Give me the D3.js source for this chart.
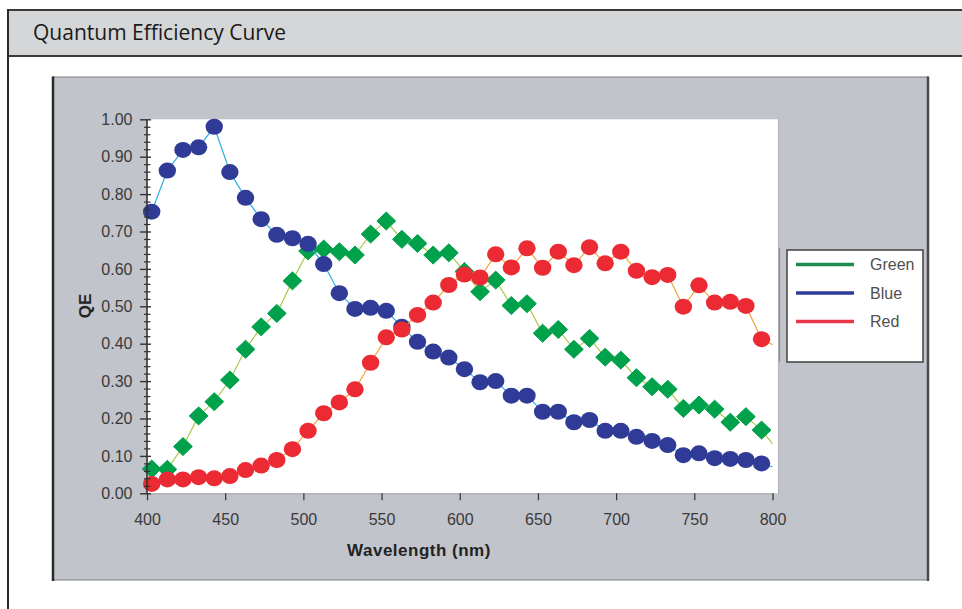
<!DOCTYPE html>
<html>
<head>
<meta charset="utf-8">
<script src="https://cdn.jsdelivr.net/npm/d3@7"></script>
<style>
  html, body { margin: 0; padding: 0; background: #ffffff; }
  svg { display: block; }
</style>
</head>
<body>
<svg id="chart" width="962" height="609"></svg>
<script>
// ---------------- data ----------------
const title = "Quantum Efficiency Curve";
const xTitle = "Wavelength (nm)";
const yTitle = "QE";
const seriesNames = ["Green", "Blue", "Red"];
const wavelengths = [403, 413, 423, 433, 443, 453, 463, 473, 483, 493,
                     503, 513, 523, 533, 543, 553, 563, 573, 583, 593,
                     603, 613, 623, 633, 643, 653, 663, 673, 683, 693,
                     703, 713, 723, 733, 743, 753, 763, 773, 783, 793];
const greenQE = [0.065, 0.064, 0.125, 0.207, 0.245, 0.303, 0.385, 0.445, 0.481, 0.568,
                 0.648, 0.653, 0.646, 0.637, 0.693, 0.728, 0.679, 0.668, 0.637, 0.643,
                 0.593, 0.539, 0.570, 0.502, 0.507, 0.428, 0.438, 0.385, 0.414, 0.364,
                 0.356, 0.309, 0.285, 0.278, 0.227, 0.236, 0.225, 0.190, 0.205, 0.169];
const blueQE  = [0.753, 0.863, 0.918, 0.925, 0.980, 0.859, 0.790, 0.733, 0.691, 0.682,
                 0.667, 0.613, 0.535, 0.493, 0.496, 0.488, 0.445, 0.405, 0.379, 0.363,
                 0.332, 0.297, 0.300, 0.261, 0.261, 0.218, 0.218, 0.190, 0.196, 0.167,
                 0.167, 0.151, 0.140, 0.129, 0.102, 0.107, 0.094, 0.092, 0.089, 0.080];
const redQE   = [0.025, 0.037, 0.037, 0.043, 0.040, 0.046, 0.062, 0.074, 0.089, 0.118,
                 0.167, 0.214, 0.243, 0.278, 0.349, 0.417, 0.438, 0.477, 0.510, 0.557,
                 0.585, 0.577, 0.639, 0.604, 0.655, 0.603, 0.646, 0.610, 0.658, 0.615,
                 0.646, 0.595, 0.578, 0.584, 0.499, 0.556, 0.510, 0.512, 0.501, 0.412];
// line end points at 800 nm (no marker drawn)
const endWavelength = 800;
const endQE = [0.132, 0.071, 0.397];   // Green, Blue, Red
const xTicks = [400, 450, 500, 550, 600, 650, 700, 750, 800];
const yTicks = [0.00, 0.10, 0.20, 0.30, 0.40, 0.50, 0.60, 0.70, 0.80, 0.90, 1.00];
const yMinorTicks = [0.02,0.04,0.06,0.08,0.12,0.14,0.16,0.18,0.22,0.24,0.26,0.28,0.32,0.34,0.36,0.38,
                     0.42,0.44,0.46,0.48,0.52,0.54,0.56,0.58,0.62,0.64,0.66,0.68,0.72,0.74,0.76,0.78,
                     0.82,0.84,0.86,0.88,0.92,0.94,0.96,0.98];

// ---------------- layout / style ----------------
const svg = d3.select("#chart");
const axisFont = "'Liberation Sans', Arial, sans-serif";

const styles = {
  Green: { marker: "#00a14b", line: "#a9c94a", legend: "#1b8c4c", shape: "diamond" },
  Blue:  { marker: "#2f3b96", line: "#2aaee6", legend: "#2f3b96", shape: "circle" },
  Red:   { marker: "#ec2a33", line: "#f4a43a", legend: "#e8374b", shape: "circle" }
};

// outer frame
svg.append("rect").attr("x", 9).attr("y", 10).attr("width", 960).attr("height", 46)
  .attr("fill", "#d5d6d8");
svg.append("line").attr("x1", 8).attr("x2", 962).attr("y1", 10).attr("y2", 10)
  .attr("stroke", "#3a3a3a").attr("stroke-width", 2);
svg.append("line").attr("x1", 8).attr("x2", 962).attr("y1", 56).attr("y2", 56)
  .attr("stroke", "#3a3a3a").attr("stroke-width", 2);
svg.append("line").attr("x1", 8).attr("x2", 8).attr("y1", 9).attr("y2", 609)
  .attr("stroke", "#2a2a2a").attr("stroke-width", 2);
svg.append("text").attr("x", 33).attr("y", 39.5)
  .attr("font-family", "'Open Sans', 'Noto Sans', sans-serif").attr("font-size", 21)
  .attr("fill", "#1a1a1a").text(title);

// chart panel
svg.append("rect").attr("x", 53).attr("y", 77).attr("width", 875).attr("height", 503)
  .attr("fill", "#c1c4ca").attr("stroke", "#7a7c80").attr("stroke-width", 1);
svg.append("line").attr("x1", 53).attr("x2", 53).attr("y1", 76.5).attr("y2", 581)
  .attr("stroke", "#2a2a2a").attr("stroke-width", 2.5);
svg.append("line").attr("x1", 928).attr("x2", 928).attr("y1", 76.5).attr("y2", 581)
  .attr("stroke", "#4a4a4a").attr("stroke-width", 2.5);

// scales
const x = d3.scaleLinear().domain([400, 800]).range([147, 772.5]);
const y = d3.scaleLinear().domain([0, 1]).range([493.3, 119.3]);

// plot area
svg.append("rect").attr("x", 147).attr("y", 119.3).attr("width", 631).attr("height", 374)
  .attr("fill", "#ffffff");
svg.append("line").attr("x1", 778.5).attr("x2", 778.5).attr("y1", 119).attr("y2", 494)
  .attr("stroke", "#b4b6ba").attr("stroke-width", 1.2);
svg.append("line").attr("x1", 779.5).attr("x2", 779.5).attr("y1", 248).attr("y2", 362)
  .attr("stroke", "#8a8c90").attr("stroke-width", 1.2);

// series
const series = [
  { name: "Green", values: greenQE, end: endQE[0] },
  { name: "Blue",  values: blueQE,  end: endQE[1] },
  { name: "Red",   values: redQE,   end: endQE[2] }
];
const lineGen = d3.line().x(d => x(d[0])).y(d => y(d[1]));
const diamond = (cx, cy) => `M${cx},${cy-9}L${cx+9.4},${cy}L${cx},${cy+9}L${cx-9.4},${cy}Z`;

const plot = svg.append("g");
series.forEach(s => {
  const st = styles[s.name];
  const pts = wavelengths.map((w, i) => [w, s.values[i]]);
  plot.append("path").datum(pts.concat([[endWavelength, s.end]]))
    .attr("d", lineGen).attr("fill", "none")
    .attr("stroke", st.line).attr("stroke-width", 1.2);
  const g = plot.append("g");
  if (st.shape === "circle") {
    g.selectAll("ellipse").data(pts).join("ellipse")
      .attr("cx", d => x(d[0])).attr("cy", d => y(d[1]))
      .attr("rx", 8.7).attr("ry", 8).attr("fill", st.marker);
  } else {
    g.selectAll("path").data(pts).join("path")
      .attr("d", d => diamond(x(d[0]), y(d[1]))).attr("fill", st.marker)
      .attr("stroke", st.marker).attr("stroke-width", 1).attr("stroke-linejoin", "round");
  }
});

// x axis
const xAxis = svg.append("g").attr("transform", "translate(0,493.3)")
  .call(d3.axisBottom(x).tickValues(xTicks).tickFormat(d3.format("d")).tickSize(7).tickPadding(12));
xAxis.select(".domain").attr("stroke", "#a8aaae").attr("stroke-width", 1.2);
xAxis.selectAll(".tick line").attr("stroke", "#333").attr("stroke-width", 1.2);
xAxis.selectAll(".tick text").attr("font-family", axisFont).attr("font-size", 16)
  .attr("fill", "#3a3a3a").attr("dy", "0.71em").attr("y", 20);

// y axis minor ticks
const yMinor = svg.append("g").attr("transform", "translate(146.5,0)")
  .call(d3.axisLeft(y).tickValues(yMinorTicks).tickFormat("").tickSize(2.5));
yMinor.select(".domain").remove();
yMinor.selectAll(".tick line").attr("x2", -2.5).attr("x1", 4).attr("stroke", "#333").attr("stroke-width", 1.2);

// y axis major
const yAxis = svg.append("g").attr("transform", "translate(146.5,0)")
  .call(d3.axisLeft(y).tickValues(yTicks).tickFormat(d3.format(".2f")).tickSizeInner(6.5).tickSizeOuter(0).tickPadding(8));
yAxis.select(".domain").attr("stroke", "#333").attr("stroke-width", 1.6);
yAxis.selectAll(".tick line").attr("x1", 4.5).attr("stroke", "#333").attr("stroke-width", 1.4);
yAxis.selectAll(".tick text").attr("font-family", axisFont).attr("font-size", 16)
  .attr("fill", "#3a3a3a").attr("x", -14);

// axis titles
svg.append("text").attr("x", 419).attr("y", 556).attr("text-anchor", "middle")
  .attr("font-family", axisFont).attr("font-size", 17).attr("font-weight", "bold")
  .attr("letter-spacing", 0.5).attr("fill", "#222").text(xTitle);
svg.append("text").attr("transform", "translate(91,306) rotate(-90)").attr("text-anchor", "middle")
  .attr("font-family", axisFont).attr("font-size", 17).attr("font-weight", "bold")
  .attr("fill", "#222").text(yTitle);

// legend
const legend = svg.append("g");
legend.append("rect").attr("x", 787).attr("y", 250).attr("width", 136).attr("height", 112)
  .attr("fill", "#ffffff").attr("stroke", "#4a4a4a").attr("stroke-width", 1.6);
const legendY = d3.scalePoint().domain(seriesNames).range([264.5, 321.5]);
seriesNames.forEach(n => {
  legend.append("line").attr("x1", 796).attr("x2", 854)
    .attr("y1", legendY(n)).attr("y2", legendY(n))
    .attr("stroke", styles[n].legend).attr("stroke-width", 3.5);
  legend.append("text").attr("x", 870).attr("y", legendY(n)).attr("dy", "0.36em")
    .attr("font-family", axisFont).attr("font-size", 16).attr("fill", "#505050").text(n);
});
</script>
</body>
</html>
